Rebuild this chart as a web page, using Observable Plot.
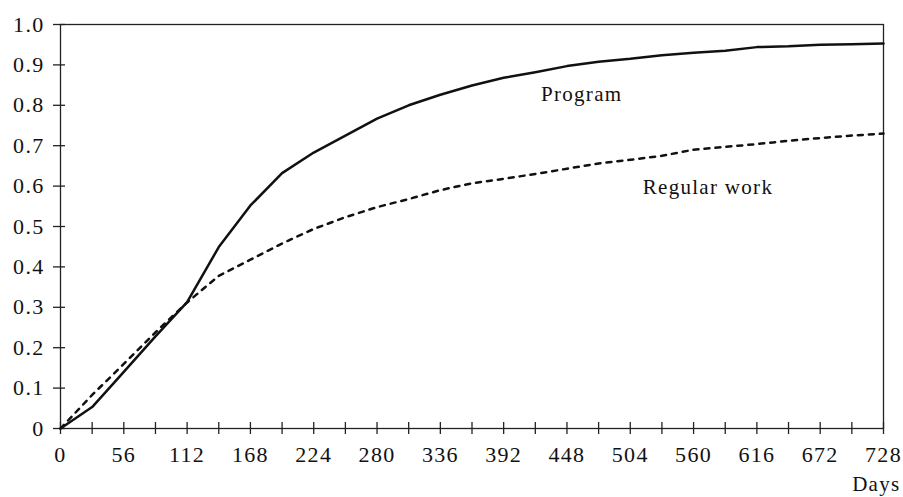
<!DOCTYPE html>
<html>
<head>
<meta charset="utf-8">
<script src="https://cdn.jsdelivr.net/npm/d3@7"></script>
<script src="https://cdn.jsdelivr.net/npm/@observablehq/plot@0.6"></script>
<style>
  html, body { margin: 0; padding: 0; background: #fff; }
  svg text { letter-spacing: 1.3px; }
</style>
</head>
<body>
<div id="chart"></div>
<script>
const days = [0,28,56,84,112,140,168,196,224,252,280,308,336,364,392,420,448,476,504,532,560,588,616,644,672,700,728];
const program = [0,0.053,0.14,0.228,0.313,0.449,0.552,0.632,0.683,0.725,0.767,0.80,0.826,0.849,0.868,0.882,0.897,0.908,0.915,0.924,0.930,0.935,0.944,0.946,0.950,0.951,0.953];
const regularWork = [0,0.083,0.16,0.238,0.312,0.378,0.418,0.458,0.494,0.523,0.548,0.568,0.590,0.607,0.618,0.630,0.643,0.656,0.665,0.675,0.690,0.697,0.704,0.712,0.719,0.725,0.730];
const xTickLabels = [0,56,112,168,224,280,336,392,448,504,560,616,672,728];
const xMinorTicks = [0,28,56,84,112,140,168,196,224,252,280,308,336,364,392,420,448,476,504,532,560,588,616,644,672,700,728];
const yTicks = [0,0.1,0.2,0.3,0.4,0.5,0.6,0.7,0.8,0.9,1.0];

const progData = days.map((d, i) => ({day: d, v: program[i]}));
const regData = days.map((d, i) => ({day: d, v: regularWork[i]}));

const font = "'Liberation Serif', 'Times New Roman', serif";

const chart = Plot.plot({
  width: 903,
  height: 497,
  marginLeft: 60,
  marginRight: 20,
  marginTop: 24,
  marginBottom: 69,
  style: {fontFamily: font, color: "#111", background: "#fff"},
  x: {domain: [0, 728], axis: null},
  y: {domain: [0, 1], axis: null},
  marks: [
    Plot.frame({stroke: "#222", strokeWidth: 1.3}),
    Plot.ruleX(xMinorTicks, {x: d => d, y1: 0, y2: 0, insetTop: -6, insetBottom: -6, stroke: "#222", strokeWidth: 1.3}),
    Plot.ruleY(yTicks, {y: d => d, x1: 0, x2: 0, insetLeft: -7, insetRight: -5, stroke: "#222", strokeWidth: 1.3}),
    Plot.text(xTickLabels, {x: d => d, text: d => String(d), frameAnchor: "bottom", lineAnchor: "top", dy: 18, fontSize: 22, fill: "#111"}),
    Plot.text(yTicks, {y: d => d, text: d => d === 0 ? "0" : d.toFixed(1), frameAnchor: "left", textAnchor: "end", lineAnchor: "middle", dx: -16, fontSize: 22, fill: "#111"}),
    Plot.line(regData, {x: "day", y: "v", stroke: "#111", strokeWidth: 2.5, strokeDasharray: "5,6"}),
    Plot.line(progData, {x: "day", y: "v", stroke: "#111", strokeWidth: 2.5}),
    Plot.text(["Program"], {x: 425, y: 0.828, text: d => d, textAnchor: "start", lineAnchor: "middle", fontSize: 21, fill: "#111"}),
    Plot.text(["Regular work"], {x: 515, y: 0.598, text: d => d, textAnchor: "start", lineAnchor: "middle", fontSize: 21, fill: "#111"}),
    Plot.text(["Days"], {frameAnchor: "bottom-right", text: d => d, textAnchor: "end", lineAnchor: "bottom", dx: 17, dy: 62, fontSize: 21, fill: "#111"})
  ]
});
// widen the tick-label spacing (first two text marks are the tick labels)
const textGroups = chart.querySelectorAll('g[aria-label="text"]');
if (textGroups[0]) textGroups[0].style.letterSpacing = "2.5px";
if (textGroups[1]) textGroups[1].style.letterSpacing = "2.5px";
document.getElementById("chart").appendChild(chart);
</script>
</body>
</html>
